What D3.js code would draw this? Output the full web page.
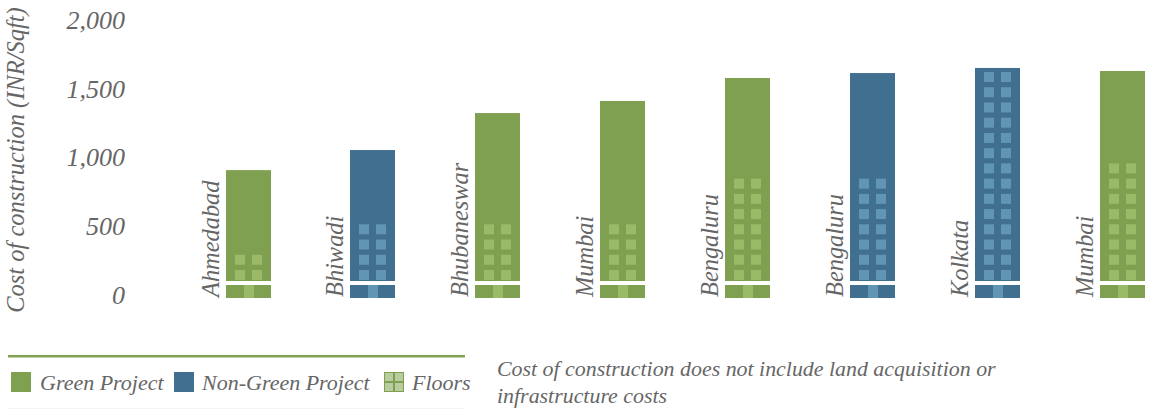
<!DOCTYPE html>
<html><head><meta charset="utf-8">
<style>html,body{margin:0;padding:0;background:#fff}svg{display:block}
text{font-family:"Liberation Serif",serif;font-style:italic;fill:#666}</style>
<script src="https://cdn.jsdelivr.net/npm/d3@7"></script></head><body>
<script>
const cities=["Ahmedabad","Bhiwadi","Bhubaneswar","Mumbai","Bengaluru","Bengaluru","Kolkata","Mumbai"];
const costs=[930,1076,1345,1433,1600,1636,1673,1651];
const projectTypes=["Green","Non-Green","Green","Green","Green","Non-Green","Non-Green","Green"];
const floors=[2,4,4,4,7,7,14,8];
const yTicks=[0,500,1000,1500,2000];
const legendItems=["Green Project","Non-Green Project","Floors"];
const noteLines=["Cost of construction does not include land acquisition or","infrastructure costs"];
const axisTitle="Cost of construction (INR/Sqft)";
const colors={"Green":"#7fa050","Non-Green":"#416f8f"};
const windowColors={"Green":"#9aba68","Non-Green":"#6096b3"};

const W=1151,H=409;
const svg=d3.select("body").append("svg").attr("width",W).attr("height",H);
const y=d3.scaleLinear().domain([0,2000]).range([298,23]);
const x=d3.scalePoint().domain(d3.range(cities.length)).range([225.5,1100]);
const barW=45;
const floorY=d3.scaleLinear().domain([0,13]).range([270,72]);

const axis=d3.axisLeft(y).tickValues(yTicks).tickSize(0).tickFormat(d3.format(","));
const ag=svg.append("g").attr("transform","translate(125,-4)").call(axis);
ag.select(".domain").remove();
ag.selectAll("text").attr("x",0).attr("dy","0.36em").style("font-family",'"Liberation Serif",serif').style("font-size","26px").attr("fill","#666");

svg.append("text").attr("transform","translate(24,160) rotate(-90)").attr("text-anchor","middle").style("font-size","24.5px").text(axisTitle);

const g=svg.selectAll("g.b").data(cities).join("g").attr("class","b").attr("transform",(d,i)=>`translate(${Math.round(x(i))},0)`);
g.append("rect").attr("width",barW).attr("y",(d,i)=>y(costs[i])).attr("height",(d,i)=>281-y(costs[i])).attr("fill",(d,i)=>colors[projectTypes[i]]);
g.append("rect").attr("width",barW).attr("y",285).attr("height",y(0)-285).attr("fill",(d,i)=>colors[projectTypes[i]]);
g.append("rect").attr("x",18).attr("width",10).attr("y",285).attr("height",y(0)-285).attr("fill",(d,i)=>windowColors[projectTypes[i]]);
g.each(function(d,i){
  const rows=d3.range(floors[i]);
  const sel=d3.select(this);
  [9,26].forEach(cx=>{
    sel.selectAll(null).data(rows).join("rect").attr("x",cx).attr("y",r=>floorY(r)).attr("width",10).attr("height",10).attr("fill",windowColors[projectTypes[i]]);
  });
});
g.append("text").attr("transform","translate(-7,297) rotate(-90)").style("font-size","24.4px").text(d=>d);

svg.append("rect").attr("x",8).attr("y",355).attr("width",457).attr("height",2.5).attr("fill","#82a555");
svg.append("rect").attr("x",8).attr("y",408).attr("width",457).attr("height",1).attr("fill","#f4f4f4");

const lx=[11,174,384], tx=[40,202,412];
legendItems.forEach((t,i)=>{
  svg.append("rect").attr("x",lx[i]).attr("y",372).attr("width",20).attr("height",20).attr("fill",i==1?colors["Non-Green"]:colors["Green"]);
  svg.append("text").attr("x",tx[i]).attr("y",390).style("font-size","22px").text(t);
});
[[1,1],[11,1],[1,11],[11,11]].forEach(p=>svg.append("rect").attr("x",lx[2]+p[0]).attr("y",372+p[1]).attr("width",8).attr("height",8).attr("fill","#b9cc9f"));
noteLines.forEach((t,i)=>svg.append("text").attr("x",497).attr("y",376+i*27).style("font-size","21.9px").text(t));
</script></body></html>
